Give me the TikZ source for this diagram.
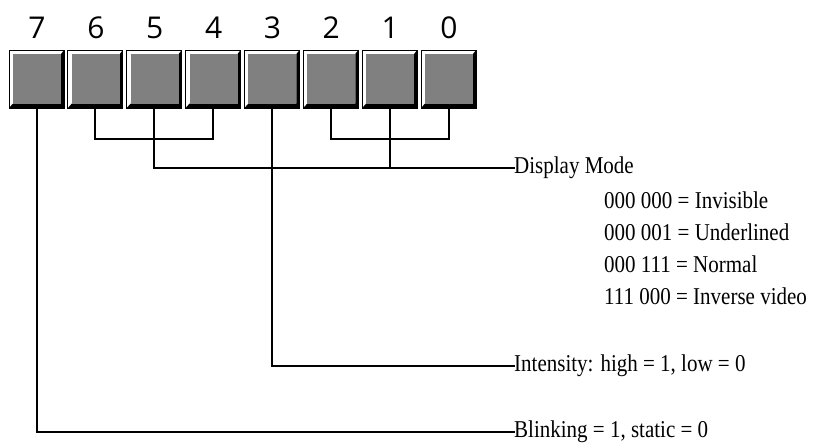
\documentclass[tikz,border=0pt]{standalone}
\usepackage{fontspec}
\usepackage{graphicx}
\setmainfont{Liberation Serif}
\newfontfamily\digitfont{Open Sans}
\usetikzlibrary{calc}
\definecolor{keygray}{HTML}{808080}
\newcommand\talltext[1]{\scalebox{1}[1.15]{#1}}
\begin{document}
\begin{tikzpicture}[x=1pt,y=-1pt,
  boxnode/.style={rectangle,minimum width=55pt,minimum height=58pt,inner sep=0pt,outer sep=0pt},
  digit/.style={font=\digitfont\fontsize{30}{32}\selectfont,inner sep=0pt},
  label/.style={font=\fontsize{21}{24}\selectfont,inner sep=0pt,anchor=west},
  conn/.style={line width=2pt,line cap=rect}]
\useasboundingbox (0,0) rectangle (816,445);
\foreach \b [count=\k from 0] in {7,6,5,4,3,2,1,0} {
  \pgfmathsetmacro\xo{9+58.86*\k}
  \node[boxnode] (b\b) at (\xo+27.5,79) {};
  \filldraw[fill=white,draw=black,line width=1pt] (\xo,50) rectangle ++(55,58);
  \fill[black] (\xo+55,50) -- (\xo+52,54) -- (\xo+52,103.5) -- (\xo+4,103.5) -- (\xo,108) -- (\xo+55,108) -- cycle;
  \fill[keygray] (\xo+4,54) rectangle (\xo+52,103.5);
  \node[digit] (d\b) at (\xo+28,28) {\b};
}
\node[label] (dm) at (514,168) {\talltext{Display Mode}};
\node[label] (m1) at (604,200) {\talltext{000 000 = Invisible}};
\node[label] (m2) at (604,232) {\talltext{000 001 = Underlined}};
\node[label] (m3) at (604,264) {\talltext{000 111 = Normal}};
\node[label] (m4) at (604,296) {\talltext{111 000 = Inverse video}};
\node[label] (int) at (514,366) {\talltext{Intensity: high = 1, low = 0}};
\node[label] (blk) at (514,432) {\talltext{Blinking = 1, static = 0}};
\coordinate (jL) at ($(b5.south)+(0,31)$);
\coordinate (jR) at ($(b1.south)+(0,31)$);
\draw[conn] (b6.south) |- (jL) -| (b4.south);
\draw[conn] (b2.south) |- (jR) -| (b0.south);
\draw[conn] (b5.south) |- (dm.west);
\draw[conn] (b1.south) -- (b1.south |- dm.west);
\draw[conn] (b3.south) |- (int.west);
\draw[conn] (b7.south) |- (blk.west);
\end{tikzpicture}
\end{document}
